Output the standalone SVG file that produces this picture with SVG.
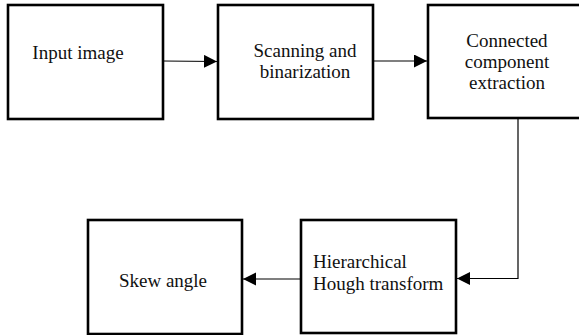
<svg xmlns="http://www.w3.org/2000/svg" width="579" height="335" viewBox="0 0 579 335">
<style>
.box{fill:#fff;stroke:#000;stroke-width:2.6}
text{font-family:'Liberation Serif','Times New Roman',Tinos,'DejaVu Serif',serif;font-size:19px;fill:#111}
.c{text-anchor:middle}
.edge{fill:none;stroke:#000;stroke-width:1.2}
</style>
<defs>
<marker id="ah" markerUnits="userSpaceOnUse" markerWidth="14" markerHeight="14" refX="13" refY="6.5" orient="auto">
<path d="M0,0 L13,6.5 L0,13 Z" fill="#000"/>
</marker>
</defs>
<g id="n1"><rect class="box" x="8" y="5" width="155" height="114"/><text class="c" x="78" y="59" font-family="Liberation Serif, serif">Input image</text></g>
<g id="n2"><rect class="box" x="218" y="5" width="155" height="114"/><text class="c" x="305" y="57" font-family="Liberation Serif, serif">Scanning and</text><text class="c" x="305" y="78" font-family="Liberation Serif, serif">binarization</text></g>
<g id="n3"><rect class="box" x="428" y="5" width="160" height="113"/><text class="c" x="507" y="47" font-family="Liberation Serif, serif">Connected</text><text class="c" x="507" y="68" font-family="Liberation Serif, serif">component</text><text class="c" x="507" y="89" font-family="Liberation Serif, serif">extraction</text></g>
<g id="n4"><rect class="box" x="301" y="220" width="155" height="113"/><text x="313" y="268" font-family="Liberation Serif, serif">Hierarchical</text><text x="313" y="290" font-family="Liberation Serif, serif">Hough transform</text></g>
<g id="n5"><rect class="box" x="88" y="220" width="154" height="114"/><text class="c" x="163" y="287" font-family="Liberation Serif, serif">Skew angle</text></g>
<g id="edges">
<path class="edge" d="M163,61 L217,61.5" marker-end="url(#ah)"/>
<path class="edge" d="M373,61 L427,61" marker-end="url(#ah)"/>
<path class="edge" d="M518,118 L518,278.5 L457,278.5" marker-end="url(#ah)"/>
<path class="edge" d="M301,279 L243,279" marker-end="url(#ah)"/>
</g>
</svg>
